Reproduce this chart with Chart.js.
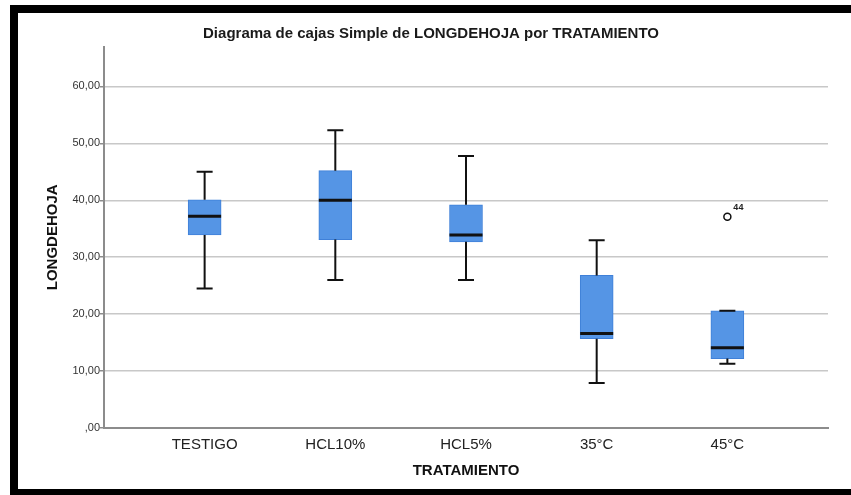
<!DOCTYPE html>
<html>
<head>
<meta charset="utf-8">
<script src="https://cdn.jsdelivr.net/npm/chart.js@4"></script>
<style>
html,body{margin:0;padding:0;background:#fff;overflow:hidden;width:851px;height:495px}
#frame{position:absolute;left:10px;top:5px;width:900px;height:476px;border:8px solid #000;border-right:none}
#wrap{position:absolute;left:0;top:0;width:851px;height:495px}
</style>
</head>
<body>
<div id="frame"></div>
<div id="wrap"><canvas id="c" width="851" height="495"></canvas></div>
<script>
const categories = ['TESTIGO', 'HCL10%', 'HCL5%', '35°C', '45°C'];
const whiskerLow  = [24.5, 26.0, 26.0, 7.9, 11.3];
const q1          = [33.9, 33.1, 32.7, 15.7, 12.2];
const median      = [37.2, 40.0, 33.9, 16.6, 14.1];
const q3          = [40.1, 45.2, 39.2, 26.8, 20.6];
const whiskerHigh = [45.0, 52.3, 47.8, 33.0, 20.6];
const outlierCategory = [4];
const outlierValue    = [37.1];
const outlierLabel    = ['44'];
const yTickValues = [0, 10, 20, 30, 40, 50, 60];
const yTickLabels = [',00', '10,00', '20,00', '30,00', '40,00', '50,00', '60,00'];

const FONT = "'Liberation Sans', Arial, sans-serif";

const boxPlugin = {
  id: 'boxWhisk',
  afterDatasetsDraw(chart) {
    const {ctx, scales: {x, y}} = chart;
    ctx.save();
    ctx.strokeStyle = '#111';
    categories.forEach((c, i) => {
      const px = x.getPixelForValue(i);
      const yH = y.getPixelForValue(whiskerHigh[i]);
      const yL = y.getPixelForValue(whiskerLow[i]);
      const y3 = y.getPixelForValue(q3[i]);
      const y1 = y.getPixelForValue(q1[i]);
      const ym = y.getPixelForValue(median[i]);
      ctx.lineWidth = 2;
      ctx.beginPath();
      ctx.moveTo(px, y3); ctx.lineTo(px, yH);
      ctx.moveTo(px, y1); ctx.lineTo(px, yL);
      ctx.moveTo(px - 8, yH); ctx.lineTo(px + 8, yH);
      ctx.moveTo(px - 8, yL); ctx.lineTo(px + 8, yL);
      ctx.stroke();
      ctx.lineWidth = 3;
      ctx.beginPath();
      ctx.moveTo(px - 16.5, ym); ctx.lineTo(px + 16.5, ym);
      ctx.stroke();
    });
    ctx.fillStyle = '#222';
    ctx.font = 'bold 9px ' + FONT;
    ctx.textAlign = 'left';
    ctx.textBaseline = 'middle';
    outlierCategory.forEach((c, k) => {
      const px = x.getPixelForValue(c);
      const py = y.getPixelForValue(outlierValue[k]);
      ctx.fillText(outlierLabel[k], px + 6, py - 9);
    });
    ctx.restore();
  }
};

new Chart(document.getElementById('c'), {
  type: 'bar',
  data: {
    datasets: [
      {
        type: 'bar',
        data: categories.map((c, i) => ({x: i, y: [q1[i], q3[i]]})),
        backgroundColor: '#5595e5',
        borderColor: '#3f80d8',
        borderWidth: 1,
        borderSkipped: false,
        barThickness: 33
      },
      {
        type: 'scatter',
        data: outlierCategory.map((c, k) => ({x: c, y: outlierValue[k]})),
        pointStyle: 'circle',
        pointRadius: 3.5,
        pointBorderWidth: 1.5,
        pointBorderColor: '#111',
        pointBackgroundColor: '#fff'
      }
    ]
  },
  options: {
    responsive: false,
    animation: false,
    layout: {padding: {left: 34, right: 23, top: 14, bottom: 6}},
    plugins: {
      legend: {display: false},
      tooltip: {enabled: false},
      title: {
        display: true,
        text: 'Diagrama de cajas Simple de LONGDEHOJA por TRATAMIENTO',
        color: '#1a1a1a',
        font: {family: FONT, size: 15, weight: 'bold'},
        padding: {top: 10.6, bottom: 4.0}
      }
    },
    scales: {
      x: {
        type: 'linear',
        offset: false,
        min: -0.77,
        max: 4.77,
        afterFit(scale) { scale.height = 61; },
        afterBuildTicks(scale) { scale.ticks = categories.map((c, i) => ({value: i})); },
        ticks: {
          autoSkip: false, maxRotation: 0, padding: 8, color: '#222',
          font: {family: FONT, size: 15},
          callback: (v) => categories[v]
        },
        grid: {display: false, drawTicks: false},
        border: {display: true, color: '#8c8c8c', width: 2},
        title: {
          display: true, text: 'TRATAMIENTO', color: '#111',
          font: {family: FONT, size: 15, weight: 'bold'},
          padding: {top: 0, bottom: 9}
        }
      },
      y: {
        type: 'linear',
        min: 0,
        max: 67,
        afterFit(scale) { scale.width = 70; },
        afterBuildTicks(scale) { scale.ticks = yTickValues.map(v => ({value: v})); },
        ticks: {
          padding: 0, color: '#333',
          font: {family: FONT, size: 11},
          callback: (v) => yTickLabels[yTickValues.indexOf(v)]
        },
        grid: {color: '#c8c8c8', lineWidth: 1.5, tickLength: 4, tickColor: '#8c8c8c', tickWidth: 1.5},
        border: {display: true, color: '#8c8c8c', width: 2},
        title: {
          display: true, text: 'LONGDEHOJA', color: '#111',
          font: {family: FONT, size: 15, weight: 'bold'},
          padding: {top: 10, bottom: 0}
        }
      }
    }
  },
  plugins: [boxPlugin]
});
</script>
</body>
</html>
